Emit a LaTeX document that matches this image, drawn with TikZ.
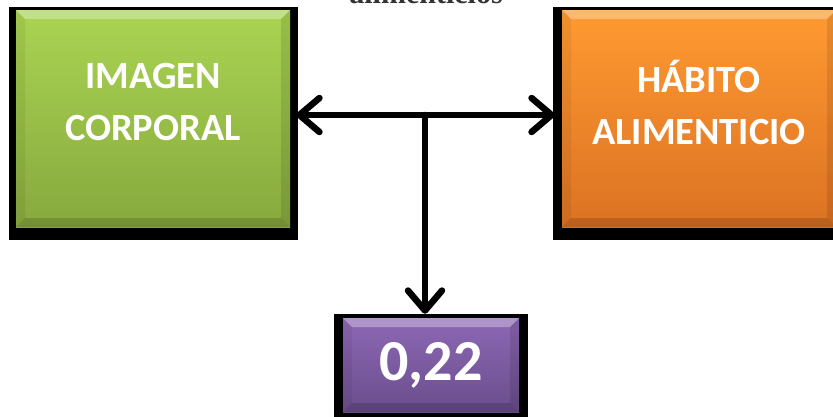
\documentclass[tikz,border=0pt]{standalone}
\usepackage{fontspec}
\setmainfont{Carlito}
\newfontfamily\captionserif{Liberation Serif}
\usetikzlibrary{arrows.meta,calc}

\tikzset{
  x=1pt, y=1pt,
  bevelbox/.style={
    rectangle, inner sep=0pt, draw=none,
    path picture={
      \def\pb{path picture bounding box}
      % lit top edge
      \fill[white,opacity=.3]
        (\pb.north west) -- (\pb.north east)
        -- ([shift={(-9pt,-9pt)}]\pb.north east)
        -- ([shift={(9pt,-9pt)}]\pb.north west) -- cycle;
      % side edges
      \fill[black,opacity=.06]
        (\pb.north west) -- ([shift={(9pt,-9pt)}]\pb.north west)
        -- ([shift={(9pt,9pt)}]\pb.south west) -- (\pb.south west) -- cycle;
      \fill[black,opacity=.1]
        (\pb.north east) -- ([shift={(-9pt,-9pt)}]\pb.north east)
        -- ([shift={(-9pt,9pt)}]\pb.south east) -- (\pb.south east) -- cycle;
      % shaded bottom edge
      \fill[black,opacity=.15]
        (\pb.south west) -- (\pb.south east)
        -- ([shift={(-9pt,9pt)}]\pb.south east)
        -- ([shift={(9pt,9pt)}]\pb.south west) -- cycle;
    }
  },
  boxtext/.style={text=white, font=\bfseries\fontsize{38.5}{52}\selectfont,
    align=center, inner sep=0pt},
  greenbox/.style={bevelbox, top color=greenTop, bottom color=greenBot},
  orangebox/.style={bevelbox, top color=orangeTop, bottom color=orangeBot},
  purplebox/.style={bevelbox, top color=purpleTop, bottom color=purpleBot},
  link/.style={line width=6.5pt, draw=black, line cap=round,
    arrows={Straight Barb[length=20pt,width=34pt,line cap=round,line join=round]-}},
}
\definecolor{greenTop}{HTML}{AAD452}
\definecolor{greenBot}{HTML}{87A93E}
\definecolor{orangeTop}{HTML}{FF9A31}
\definecolor{orangeBot}{HTML}{DB7223}
\definecolor{purpleTop}{HTML}{8D68B5}
\definecolor{purpleBot}{HTML}{6A4E8C}

\begin{document}
\begin{tikzpicture}
  \useasboundingbox (0,0) rectangle (833,-416);
  \clip (0,0) rectangle (833,-416);
  \fill[white] (0,0) rectangle (833,-416);

  % caption line running off the top
  \node[anchor=base, font=\captionserif\bfseries\fontsize{30}{30}\selectfont, text=black!80]
    (cap) at (426,-3) {alimenticios};

  % drop frames behind the boxes
  \fill[black] (9,-7) rectangle (298,-240);
  \fill[black] (553,-7) rectangle (845,-240);
  \fill[black] (334,-314) rectangle (528,-424);

  % boxes
  \node[greenbox, minimum width=274pt, minimum height=217pt] (img) at (153,-118.5) {};
  \node[orangebox, minimum width=274pt, minimum height=217pt] (hab) at (699,-118.5) {};
  \node[purplebox, minimum width=176pt, minimum height=94pt] (res) at (431,-365) {};

  % box labels
  \node[boxtext] (imgtext) at ([yshift=16pt]img.center) {IMAGEN\\CORPORAL};
  \node[boxtext] (habtext) at ([yshift=16pt]hab.center) {HÁBITO\\ALIMENTICIO};
  \node[boxtext, font=\bfseries\fontsize{58}{58}\selectfont] (restext) at (res.center) {0,22};

  % connectors
  \coordinate (mid) at (425,-115);
  \draw[link] ([shift={(6pt,3.5pt)}]img.east) -- (mid);
  \draw[link] ([shift={(-7pt,3.5pt)}]hab.west) -- (mid);
  \draw[link] (mid |- res.north) ++(0,4) -- (mid);
\end{tikzpicture}
\end{document}
